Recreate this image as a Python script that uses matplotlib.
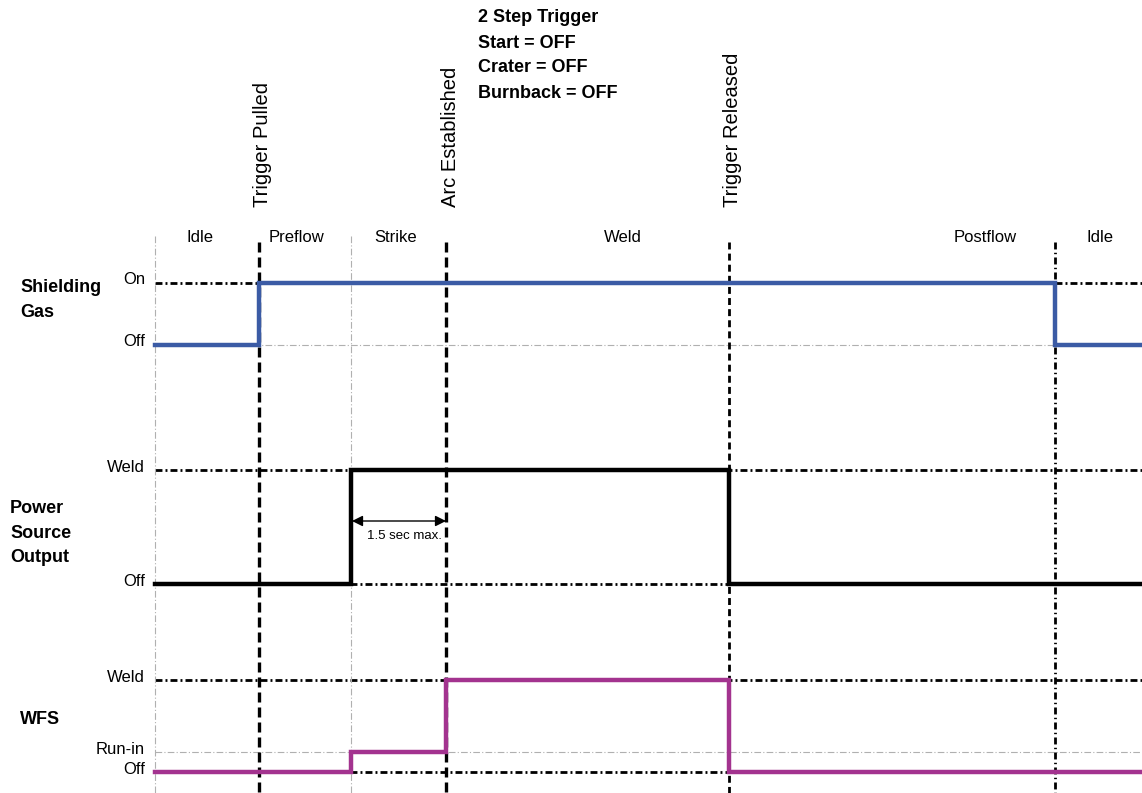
""" Weld sequence timing diagram: 2 step trigger, all options off """
import matplotlib.pyplot as plt

# timeline (diagram time units)
t_start, t_end = 155, 1142
trigger_pulled = 259
strike_start = 351
arc_established = 446
trigger_released = 729
postflow_end = 1055

phase_names = ['Idle', 'Preflow', 'Strike', 'Weld', 'Postflow', 'Idle']
phase_label_t = [200, 297, 396, 623, 985, 1100]

event_names = ['Trigger Pulled', 'Arc Established', 'Trigger Released']
event_t = [trigger_pulled, arc_established, trigger_released]

# signals: level names, step edges and state index per interval
gas_levels = ['Off', 'On']
gas_edges = [t_start, trigger_pulled, postflow_end, t_end]
gas_states = [0, 1, 0]

power_levels = ['Off', 'Weld']
power_edges = [t_start, strike_start, trigger_released, t_end]
power_states = [0, 1, 0]

wfs_levels = ['Off', 'Run-in', 'Weld']
wfs_edges = [t_start, strike_start, arc_established, trigger_released, t_end]
wfs_states = [0, 1, 2, 0]

settings = ['2 Step Trigger', 'Start = OFF', 'Crater = OFF', 'Burnback = OFF']
strike_limit = '1.5 sec max.'

plt.rcParams['font.family'] = ['Liberation Sans', 'DejaVu Sans']

fig = plt.figure(figsize=(11.42, 7.93), dpi=100)
ax = fig.add_axes([0, 0, 1, 1])
ax.set_xlim(0, 1142)
ax.set_ylim(793, 0)
ax.axis('off')

DASHDOT = (2.5, 1.1, 0.7, 1.1)
GREY = '#b0b0b0'

channels = [
    ('Shielding\nGas', gas_levels, gas_edges, gas_states, '#3b5ba5',
     [345, 283], [False, True], 300, 20),
    ('Power\nSource\nOutput', power_levels, power_edges, power_states, 'black',
     [584, 470], [True, True], 533, 10),
    ('WFS', wfs_levels, wfs_edges, wfs_states, '#a3338f',
     [772, 752, 680], [True, False, True], 720, 20),
]

for name, levels, edges, states, color, level_y, bold_ref, name_y, name_x in channels:
    # reference lines for each level
    for lvl, y, strong in zip(levels, level_y, bold_ref):
        if strong:
            ax.plot([t_start, t_end], [y, y], color='black', lw=2,
                    dashes=DASHDOT, zorder=1)
        else:
            ax.plot([t_start, t_end], [y, y], color=GREY, lw=0.8,
                    dashes=(6, 2, 1, 2), zorder=1)
        ax.text(145, y - 3, lvl, ha='right', va='center', fontsize=12)
    # signal trace
    ys = [level_y[s] for s in states]
    ax.step(edges, ys + [ys[-1]], where='post', color=color, lw=3.2,
            solid_joinstyle='miter', zorder=3)
    ax.text(name_x, name_y, name, ha='left', va='center', fontsize=13,
            fontweight='bold', linespacing=1.55)

# phase boundaries
for t in [t_start, strike_start]:
    ax.plot([t, t], [236, 793], color=GREY, lw=0.8, dashes=(6, 2, 1, 2),
            zorder=2)
for t in [trigger_pulled, arc_established]:
    ax.plot([t, t], [242, 793], color='black', lw=2.4, dashes=(3, 1.5),
            zorder=2)
ax.plot([trigger_released] * 2, [242, 793], color='black', lw=2,
        dashes=(2.5, 1.5), zorder=2)
ax.plot([postflow_end] * 2, [242, 793], color='black', lw=2,
        dashes=(2.5, 1.2, 0.5, 1.2), zorder=2)

for name, t in zip(phase_names, phase_label_t):
    ax.text(t, 237, name, ha='center', va='center', fontsize=12)

for name, t in zip(event_names, event_t):
    ax.text(t + 4, 207, name, ha='center', va='bottom', rotation=90,
            fontsize=14.5)

for i, line in enumerate(settings):
    ax.text(478, 18 + i * 25, line, ha='left', va='center', fontsize=13,
            fontweight='bold')

# strike time limit
ax.annotate('', xy=(strike_start + 1, 521), xytext=(arc_established, 521),
            arrowprops=dict(arrowstyle='<|-|>', color='black', lw=1,
                            mutation_scale=16, shrinkA=0, shrinkB=0))
ax.text((strike_start + arc_established) / 2 + 6, 536, strike_limit,
        ha='center', va='center', fontsize=9.5)

fig.savefig('out.png', dpi=100)
